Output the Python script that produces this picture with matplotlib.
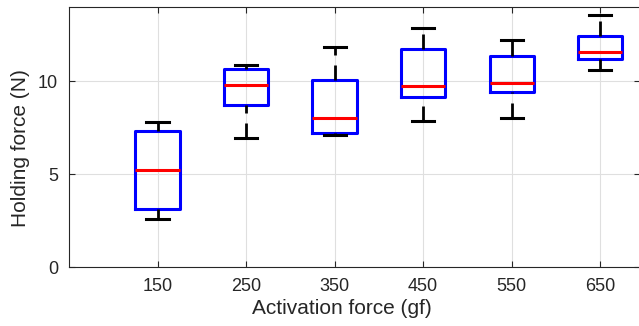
import matplotlib
matplotlib.use('Agg')
import matplotlib.pyplot as plt

plt.rcParams['font.family'] = ['Liberation Sans', 'DejaVu Sans']

labels = ['150', '250', '350', '450', '550', '650']
whislo = [2.59, 6.96, 7.12, 7.88, 8.03, 10.61]
q1 = [3.15, 8.75, 7.21, 9.13, 9.44, 11.18]
med = [5.23, 9.78, 8.01, 9.73, 9.91, 11.59]
q3 = [7.30, 10.67, 10.07, 11.72, 11.38, 12.46]
whishi = [7.83, 10.89, 11.85, 12.86, 12.21, 13.57]

stats = []
for i in range(len(labels)):
    stats.append({'label': labels[i], 'whislo': whislo[i], 'q1': q1[i], 'med': med[i],
                  'q3': q3[i], 'whishi': whishi[i], 'fliers': []})

fig = plt.figure(figsize=(6.39, 3.26), dpi=100)
ax = fig.add_axes([69 / 639, 59 / 326, 571 / 639, 260 / 326])

bp = ax.bxp(stats, widths=0.5, showfliers=False,
            boxprops=dict(color='#0000ff', linewidth=2.2),
            medianprops=dict(color='#ff0000', linewidth=2.2),
            whiskerprops=dict(color='black', linewidth=2, linestyle=(0, (5.4, 3.6))),
            capprops=dict(color='black', linewidth=2.2),
            capwidths=0.25)
# lower whiskers: start the dash pattern at the cap, like the original
for w in bp['whiskers'][0::2]:
    xd, yd = w.get_data()
    w.set_data(xd[::-1], yd[::-1])

ax.set_xlim(0, 6.45)
ax.set_ylim(0, 14)
ax.set_yticks([0, 5, 10])
ax.grid(True, color='#dfdfdf', linewidth=0.8)
ax.set_axisbelow(True)
ax.tick_params(direction='in', top=True, right=True, length=4, width=0.8,
               labelsize=13, colors='#262626', pad=8)
for s in ax.spines.values():
    s.set_color('#262626')
    s.set_linewidth(0.8)

ax.set_xlabel('Activation force (gf)', fontsize=15, color='#262626')
ax.set_ylabel('Holding force (N)', fontsize=15, color='#262626')
ax.xaxis.set_label_coords(0.478, -0.123)
ax.yaxis.set_label_coords(-0.068, 0.458)

fig.savefig('out.png', dpi=100)
